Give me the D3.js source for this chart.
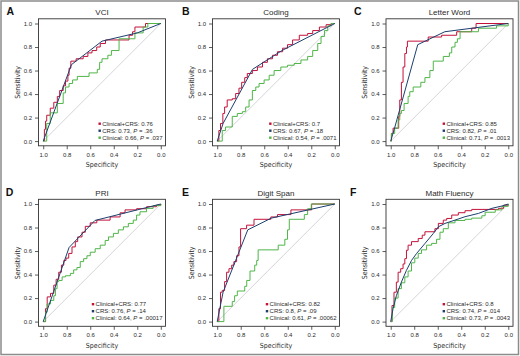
<!DOCTYPE html>
<html>
<head>
<meta charset="utf-8">
<script src="https://cdn.jsdelivr.net/npm/d3@7"></script>
<style>
  body { margin: 0; background: #fff; }
  svg { display: block; font-family: "Liberation Sans", Arial, sans-serif; }
</style>
</head>
<body>
<script>
// panel info
const panelLetters = ["A", "B", "C", "D", "E", "F"];
const panelTitles = ["VCI", "Coding", "Letter Word", "PRI", "Digit Span", "Math Fluency"];
const aucCombined = ["0.76", "0.7", "0.85", "0.77", "0.82", "0.8"];
const aucCrs = ["0.73", "0.67", "0.82", "0.76", "0.8", "0.74"];
const pCrs = [".36", ".18", ".01", ".14", ".09", ".014"];
const aucClinical = ["0.66", "0.54", "0.71", "0.64", "0.61", "0.73"];
const pClinical = [".037", ".0071", ".0013", ".00017", ".00062", ".0043"];
const axisTicks = [1.0, 0.8, 0.6, 0.4, 0.2, 0.0];

// ROC points as [specificity, sensitivity]
const vciCombined = [[1,0],[0.99,0.1],[0.98,0.17],[0.97,0.22],[0.94,0.28],[0.91,0.33],[0.88,0.38],[0.86,0.43],[0.83,0.47],[0.81,0.51],[0.79,0.56],[0.78,0.62],[0.765,0.68],[0.72,0.7],[0.66,0.72],[0.62,0.75],[0.585,0.77],[0.545,0.8],[0.515,0.83],[0.47,0.86],[0.27,0.9],[0.24,0.93],[0.22,0.97],[0.13,1],[0,1]];
const vciCrs = [[1,0],[0.76,0.65],[0.5,0.85],[0.2,0.92],[0,1]];
const vciClinical = [[1,0],[0.97,0.15],[0.94,0.24],[0.88,0.32],[0.83,0.41],[0.81,0.46],[0.78,0.49],[0.75,0.52],[0.71,0.55],[0.61,0.58],[0.54,0.61],[0.52,0.67],[0.5,0.7],[0.45,0.73],[0.42,0.77],[0.355,0.87],[0.22,0.92],[0.15,0.97],[0.11,1],[0,1]];

const codingCombined = [[1,0],[0.986,0.09],[0.972,0.15],[0.952,0.235],[0.937,0.29],[0.915,0.35],[0.872,0.36],[0.843,0.405],[0.815,0.45],[0.792,0.5],[0.766,0.54],[0.744,0.575],[0.701,0.6],[0.658,0.63],[0.615,0.67],[0.573,0.7],[0.53,0.73],[0.487,0.76],[0.444,0.79],[0.402,0.82],[0.359,0.86],[0.302,0.9],[0.231,0.915],[0.188,0.94],[0.131,0.97],[0.074,0.99],[0.031,1],[0,1]];
const codingCrs = [[1,0],[0.95,0.15],[0.7,0.61],[0.45,0.77],[0,1]];
const codingClinical = [[1,0],[0.957,0.09],[0.929,0.12],[0.872,0.21],[0.829,0.235],[0.786,0.25],[0.758,0.29],[0.729,0.35],[0.701,0.43],[0.672,0.46],[0.644,0.49],[0.601,0.52],[0.558,0.56],[0.516,0.6],[0.459,0.63],[0.402,0.645],[0.345,0.66],[0.288,0.69],[0.231,0.72],[0.188,0.77],[0.145,0.83],[0.117,0.89],[0.088,0.94],[0.06,0.98],[0.031,1],[0,1]];

const letterCombined = [[1,0],[0.994,0.065],[0.98,0.11],[0.932,0.21],[0.923,0.35],[0.909,0.5],[0.895,0.63],[0.88,0.745],[0.866,0.8],[0.858,0.85],[0.681,0.885],[0.567,0.9],[0.439,0.93],[0.311,0.96],[0.274,1],[0,1]];
const letterCrs = [[1,0],[0.97,0.1],[0.77,0.82],[0.54,0.93],[0,1]];
const letterClinical = [[1,0],[0.994,0.065],[0.966,0.11],[0.937,0.18],[0.923,0.235],[0.909,0.26],[0.886,0.32],[0.852,0.38],[0.838,0.42],[0.809,0.46],[0.744,0.5],[0.709,0.54],[0.667,0.6],[0.638,0.68],[0.553,0.72],[0.501,0.75],[0.481,0.8],[0.453,0.84],[0.433,0.87],[0.41,0.93],[0.254,0.96],[0.1,0.98],[0,1]];

const priCombined = [[1,0],[0.98,0.11],[0.966,0.21],[0.938,0.24],[0.91,0.31],[0.89,0.36],[0.868,0.42],[0.845,0.48],[0.825,0.52],[0.806,0.54],[0.783,0.58],[0.755,0.635],[0.727,0.68],[0.707,0.72],[0.67,0.76],[0.642,0.81],[0.6,0.84],[0.544,0.863],[0.431,0.89],[0.346,0.925],[0.304,0.95],[0.206,0.96],[0.121,0.977],[0.037,0.99],[0,1]];
const priCrs = [[1,0],[0.78,0.63],[0.56,0.86],[0,1]];
const priClinical = [[1,0],[0.98,0.08],[0.966,0.15],[0.938,0.18],[0.91,0.22],[0.896,0.28],[0.882,0.34],[0.868,0.35],[0.839,0.38],[0.811,0.39],[0.769,0.41],[0.741,0.44],[0.713,0.46],[0.685,0.51],[0.656,0.535],[0.628,0.56],[0.6,0.59],[0.558,0.62],[0.515,0.65],[0.473,0.69],[0.445,0.72],[0.403,0.75],[0.361,0.78],[0.318,0.806],[0.276,0.835],[0.234,0.863],[0.206,0.906],[0.177,0.934],[0.121,0.963],[0.065,0.986],[0,1]];

const digitCombined = [[1,0],[0.986,0.11],[0.972,0.25],[0.957,0.265],[0.937,0.34],[0.92,0.42],[0.9,0.45],[0.877,0.48],[0.858,0.51],[0.835,0.56],[0.815,0.635],[0.801,0.79],[0.75,0.82],[0.687,0.87],[0.544,0.89],[0.487,0.91],[0.373,0.95],[0.197,1],[0,1]];
const digitCrs = [[1,0],[0.95,0.25],[0.74,0.78],[0.54,0.88],[0,1]];
const digitClinical = [[1,0],[0.943,0.13],[0.872,0.17],[0.852,0.22],[0.829,0.26],[0.766,0.3],[0.749,0.35],[0.721,0.43],[0.681,0.48],[0.664,0.52],[0.652,0.61],[0.481,0.65],[0.425,0.7],[0.402,0.78],[0.387,0.87],[0.259,0.91],[0.231,0.96],[0.2,1],[0,1]];

const mathCombined = [[1,0],[0.989,0.137],[0.972,0.25],[0.952,0.336],[0.937,0.42],[0.915,0.45],[0.895,0.49],[0.88,0.535],[0.866,0.607],[0.852,0.65],[0.823,0.68],[0.766,0.707],[0.732,0.735],[0.709,0.764],[0.624,0.79],[0.595,0.835],[0.553,0.863],[0.524,0.877],[0.481,0.906],[0.425,0.926],[0.368,0.943],[0.311,0.954],[0.083,0.963],[0.04,0.99],[0,1]];
const mathCrs = [[1,0],[0.98,0.11],[0.952,0.22],[0.909,0.336],[0.866,0.436],[0.823,0.52],[0.781,0.578],[0.709,0.664],[0.638,0.749],[0.595,0.806],[0.538,0.835],[0.453,0.863],[0.368,0.892],[0.254,0.92],[0.14,0.963],[0.054,0.983],[0,1]];
const mathClinical = [[1,0],[0.986,0.12],[0.966,0.2],[0.937,0.28],[0.909,0.33],[0.88,0.38],[0.852,0.43],[0.823,0.5],[0.795,0.54],[0.766,0.58],[0.738,0.61],[0.695,0.65],[0.652,0.665],[0.61,0.7],[0.581,0.76],[0.553,0.79],[0.51,0.84],[0.453,0.86],[0.368,0.87],[0.311,0.88],[0.225,0.9],[0.197,0.93],[0.111,0.95],[0.054,0.98],[0,1]];

const combinedCurves = [vciCombined, codingCombined, letterCombined, priCombined, digitCombined, mathCombined];
const crsCurves = [vciCrs, codingCrs, letterCrs, priCrs, digitCrs, mathCrs];
const clinicalCurves = [vciClinical, codingClinical, letterClinical, priClinical, digitClinical, mathClinical];

const W = 520, H = 356;
const boxW = 127, boxH = 127;
const colX = [38.5, 212.5, 386];
const rowY = [18.8, 199.3];
const pad = 0.04 * boxW / 1.08;
const letterX = [6.5, 182, 354, 5.7, 182, 350];

const colRed = "#c3123a", colBlue = "#1d3f6e", colGreen = "#4fb548";
const textCol = "#2a2a2a";

const svg = d3.select("body").append("svg")
    .attr("width", W)
    .attr("height", H);

// outer frame
svg.append("rect")
    .attr("x", 1).attr("y", 1)
    .attr("width", W - 2.5).attr("height", H - 2.5)
    .attr("fill", "none")
    .attr("stroke", "#8c8c8c")
    .attr("stroke-width", 1.5);

panelTitles.forEach((title, i) => {
    const x0 = colX[i % 3], y0 = rowY[Math.floor(i / 3)];
    const g = svg.append("g");

    const x = d3.scaleLinear().domain([1, 0]).range([x0 + pad, x0 + boxW - pad]);
    const y = d3.scaleLinear().domain([0, 1]).range([y0 + boxH - pad, y0 + pad]);

    // axes
    const xAxis = g.append("g")
        .attr("transform", "translate(0," + (y0 + boxH) + ")")
        .call(d3.axisBottom(x).tickValues(axisTicks).tickSize(3.5).tickFormat(d3.format(".1f")));
    const yAxis = g.append("g")
        .attr("transform", "translate(" + x0 + ",0)")
        .call(d3.axisLeft(y).tickValues(axisTicks).tickSize(3.5).tickFormat(d3.format(".1f")));
    [xAxis, yAxis].forEach(a => {
        a.select(".domain").remove();
        a.selectAll("line").attr("stroke", "#333").attr("stroke-width", 0.8);
        a.selectAll("text").attr("font-size", 6).attr("fill", textCol)
            .attr("font-family", "'Liberation Sans', Arial, sans-serif");
    });

    // diagonal
    g.append("line")
        .attr("x1", x(1)).attr("y1", y(0))
        .attr("x2", x(0)).attr("y2", y(1))
        .attr("stroke", "#c9c9d0")
        .attr("stroke-width", 0.8);

    const stepLine = d3.line()
        .x(d => x(d[0])).y(d => y(d[1]))
        .curve(d3.curveStepAfter);
    const plainLine = d3.line()
        .x(d => x(d[0])).y(d => y(d[1]));

    g.append("path").attr("d", stepLine(combinedCurves[i]))
        .attr("fill", "none").attr("stroke", colRed).attr("stroke-width", 1);
    g.append("path").attr("d", stepLine(clinicalCurves[i]))
        .attr("fill", "none").attr("stroke", colGreen).attr("stroke-width", 1);
    g.append("path").attr("d", plainLine(crsCurves[i]))
        .attr("fill", "none").attr("stroke", colBlue).attr("stroke-width", 1);

    // box
    g.append("rect")
        .attr("x", x0).attr("y", y0)
        .attr("width", boxW).attr("height", boxH)
        .attr("fill", "none")
        .attr("stroke", "#333")
        .attr("stroke-width", 0.9);

    // title + letter
    g.append("text")
        .attr("x", x0 + boxW / 2).attr("y", y0 - 3.8)
        .attr("text-anchor", "middle")
        .attr("font-size", 8)
        .attr("fill", textCol)
        .text(title);
    g.append("text")
        .attr("x", letterX[i]).attr("y", y0 - 3.5)
        .attr("font-size", 10.5)
        .attr("font-weight", "bold")
        .attr("fill", "#111")
        .text(panelLetters[i]);

    // axis titles
    g.append("text")
        .attr("x", x0 + boxW / 2).attr("y", y0 + boxH + 21.5)
        .attr("text-anchor", "middle")
        .attr("font-size", 7)
        .attr("font-family", "'Liberation Sans Narrow', 'DejaVu Sans Condensed', sans-serif")
        .attr("fill", textCol)
        .text("Specificity");
    g.append("text")
        .attr("transform", "translate(" + (x0 - 19) + "," + (y0 + boxH / 2) + ") rotate(-90)")
        .attr("text-anchor", "middle")
        .attr("font-size", 7)
        .attr("font-family", "'Liberation Sans Narrow', 'DejaVu Sans Condensed', sans-serif")
        .attr("fill", textCol)
        .text("Sensitivity");

    // legend
    const rows = [
        { c: colRed, parts: ["Clinical+CRS: " + aucCombined[i]] },
        { c: colBlue, parts: ["CRS: " + aucCrs[i] + ", ", "P", " = " + pCrs[i]] },
        { c: colGreen, parts: ["Clinical: " + aucClinical[i] + ", ", "P", " = " + pClinical[i]] }
    ];
    const leg = g.append("g");
    const texts = rows.map((r, k) => {
        const t = leg.append("text")
            .attr("y", y0 + boxH - 20 + k * 7)
            .attr("font-size", 6)
            .attr("fill", textCol);
        r.parts.forEach((p, j) => {
            t.append("tspan").attr("font-style", j === 1 ? "italic" : null).text(p);
        });
        return t;
    });
    const maxW = d3.max(texts, t => t.node().getComputedTextLength());
    const tx = x0 + boxW - 3 - maxW;
    texts.forEach((t, k) => {
        t.attr("x", tx);
        leg.append("rect")
            .attr("x", tx - 3.8).attr("y", y0 + boxH - 20 + k * 7 - 3.3)
            .attr("width", 2.4).attr("height", 2.4)
            .attr("fill", rows[k].c);
    });
});
</script>
</body>
</html>
